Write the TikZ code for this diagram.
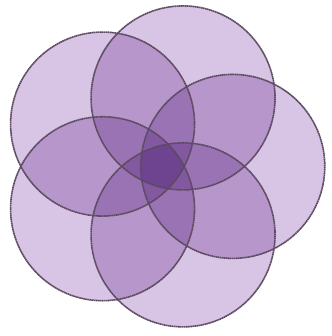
\documentclass[tikz,border=0pt]{standalone}
\usepackage{tikz}
\usetikzlibrary{calc}

\begin{document}
\begin{tikzpicture}[x=1pt,y=1pt,petal/.style={fill={rgb,255:red,216;green,196;blue,228},blend mode=multiply},rim/.style={draw={rgb,255:red,92;green,74;blue,96},line width=1.6pt,dash pattern=on 1.6pt off 0.45pt}]
    \useasboundingbox (0,0) rectangle (331,336);
    \coordinate (c) at (160.8,169.6);
    \begin{scope}[transparency group]
    \foreach \a in {0,72,...,288}
      \fill[petal] (c) ++(\a:72) circle (92);
    \end{scope}
    \foreach \a in {0,72,...,288}
      \draw[rim] (c) ++(\a:72) circle (92);
  \end{tikzpicture}
\end{document}
